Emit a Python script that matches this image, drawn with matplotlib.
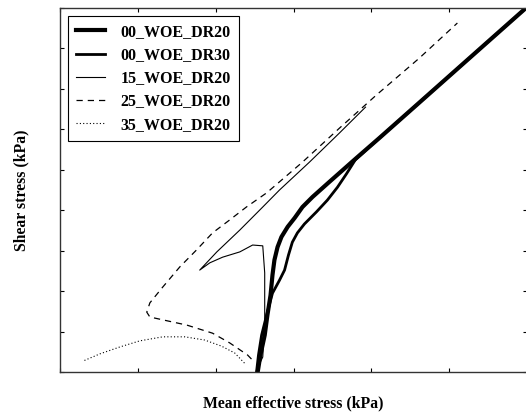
import matplotlib
matplotlib.use('Agg')
import matplotlib.pyplot as plt

# stress paths: mean effective stress p' and shear stress q (kPa)
p_00_dr20 = [50.8, 51.5, 52.6, 53.3, 54.1, 54.6, 55.1, 55.9, 56.9, 58.5, 60.3, 62.3, 64.9, 69.2, 75.9, 82.1, 92.3, 102.6, 111.5, 119.7]
q_00_dr20 = [0.0, 4.2, 9.1, 14.1, 19.0, 24.0, 27.7, 30.9, 33.4, 35.9, 38.1, 40.8, 43.3, 47.0, 52.7, 57.9, 66.6, 75.4, 83.0, 90.0]

p_00_dr30 = [50.5, 51.0, 51.8, 53.1, 54.6, 56.4, 57.7, 58.7, 59.7, 61.0, 62.8, 65.9, 68.7, 71.3, 73.6, 75.9, 82.1, 92.3, 102.6, 111.5, 119.7]
q_00_dr30 = [0.0, 4.2, 9.1, 14.1, 19.5, 22.7, 25.2, 28.9, 32.1, 34.4, 36.6, 39.6, 42.5, 45.7, 49.0, 52.5, 57.9, 66.6, 75.4, 83.0, 90.0]

p_15_dr20 = [50.5, 52.1, 52.6, 52.6, 52.1, 49.5, 46.2, 41.8, 38.5, 35.9, 40.3, 46.2, 52.1, 56.4, 64.1, 71.8, 78.5]
q_15_dr20 = [0.5, 3.7, 12.1, 24.5, 31.2, 31.4, 29.7, 28.4, 27.0, 25.2, 29.7, 35.1, 40.8, 45.0, 51.9, 59.1, 65.5]

p_25_dr20 = [49.2, 48.2, 43.6, 39.2, 32.6, 26.4, 23.1, 22.3, 23.1, 26.4, 30.8, 35.1, 39.2, 43.6, 47.9, 53.1, 62.3, 71.8, 81.3, 92.3, 102.1]
q_25_dr20 = [3.2, 4.2, 7.2, 9.6, 11.6, 12.9, 13.6, 14.8, 17.1, 21.0, 26.0, 30.2, 34.4, 37.6, 40.8, 44.3, 51.9, 60.3, 68.5, 77.6, 86.3]

p_35_dr20 = [47.4, 44.9, 41.5, 37.2, 32.1, 26.4, 20.5, 15.4, 10.3, 5.9]
q_35_dr20 = [2.2, 4.7, 6.4, 7.9, 8.7, 8.7, 7.7, 6.2, 4.5, 2.7]

x_ticks = [0, 20, 40, 60, 80, 100, 120]
y_ticks = [0, 10, 20, 30, 40, 50, 60, 70, 80, 90]

plt.rcParams['font.family'] = ['Liberation Serif', 'DejaVu Serif']

fig = plt.figure(figsize=(5.26, 4.15), dpi=100)
ax = fig.add_axes([0.114, 0.1036, 0.888, 0.877])

ax.plot(p_00_dr20, q_00_dr20, color='black', lw=3.0, solid_joinstyle='round', label='00_WOE_DR20')
ax.plot(p_00_dr30, q_00_dr30, color='black', lw=2.0, solid_joinstyle='round', label='00_WOE_DR30')
ax.plot(p_15_dr20, q_15_dr20, color='black', lw=0.8, label='15_WOE_DR20')
ax.plot(p_25_dr20, q_25_dr20, color='black', lw=0.9, ls=(0, (5, 4)), label='25_WOE_DR20')
ax.plot(p_35_dr20, q_35_dr20, color='black', lw=0.8, ls=(0, (1, 2)), label='35_WOE_DR20')

ax.set_xlim(0, 120)
ax.set_ylim(0, 90)
ax.set_xticks(x_ticks)
ax.set_yticks(y_ticks)
ax.tick_params(direction='in', length=3, top=True, right=True,
               labelbottom=False, labelleft=False)
for s in ax.spines.values():
    s.set_linewidth(1.0)
    s.set_color('#333333')

ax.set_xlabel('Mean effective stress (kPa)', fontsize=11.3, fontweight='bold', labelpad=17)
ax.set_ylabel('Shear stress (kPa)', fontsize=11.3, fontweight='bold', labelpad=22)

leg = ax.legend(loc='upper left', frameon=True, fancybox=False,
                edgecolor='black', framealpha=1, handlelength=1.8,
                handletextpad=1.0, labelspacing=0.45, borderpad=0.5,
                borderaxespad=0.5, prop={'weight': 'bold', 'size': 11.5})
leg.get_frame().set_linewidth(0.8)

fig.savefig('out.png', dpi=100)
